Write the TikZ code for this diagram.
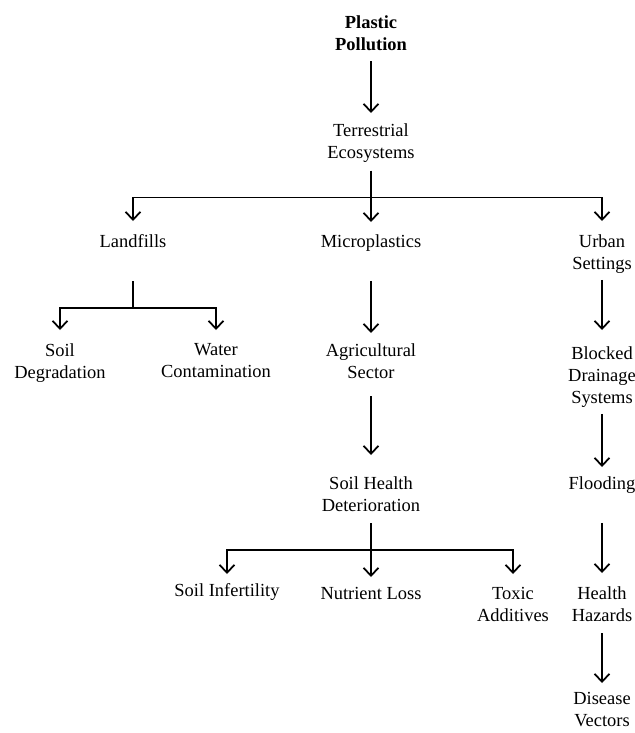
\documentclass[tikz,border=0pt]{standalone}
\usepackage{fontspec}
\setmainfont{Liberation Serif}
\usetikzlibrary{arrows.meta}
\tikzset{
  flowedge/.style = {black, ->, >={Straight Barb[length=4.5pt,width=8.5pt]}, line width=1pt},
  branchedge/.style = {black, ->, >={Straight Barb[length=4.5pt,width=8.5pt]}, line width=1pt},
}
\begin{document}
\begin{tikzpicture}[x=0.02cm,y=-0.02cm]
      \tikzstyle{every node} = [anchor=north, inner sep=0pt, align=center, font=\fontsize{10.5}{12.5}\selectfont]
      \useasboundingbox (0,0) rectangle (635,733);
      \node (plastic) at (371,15.5) {\textbf{Plastic}\\\textbf{Pollution}};
      \node (terr) at (371,123.5) {Terrestrial\\Ecosystems};
      \node (landfills) at (133,234.5) {Landfills};
      \node (micro) at (371,234.5) {Microplastics};
      \node (urban) at (602,234.5) {Urban\\Settings};
      \node (soildeg) at (60,343.5) {Soil\\Degradation};
      \node (water) at (216,343.5) {Water\\Contamination};
      \node (agri) at (371,343.5) {Agricultural\\Sector};
      \node (blocked) at (602,346.5) {Blocked\\Drainage\\Systems};
      \node (soilhealth) at (371,476.5) {Soil Health\\Deterioration};
      \node (flooding) at (602,476.5) {Flooding};
      \node (infert) at (227,583.5) {Soil Infertility};
      \node (nutrient) at (371,586.5) {Nutrient Loss};
      \node (toxic) at (513,586.5) {Toxic\\Additives};
      \node (health) at (602,586.5) {Health\\Hazards};
      \node (disease) at (602,691.5) {Disease\\Vectors};

      \path (plastic) edge[flowedge, shorten <=0.2cm, shorten >=0.21cm] (terr);
      \path (terr) edge[flowedge, shorten <=0.16cm, shorten >=0.25cm] (micro);
      \draw[branchedge, shorten <=0.16cm, shorten >=0.27cm] (terr.south) -- ++(0,34.6) -| (landfills.north);
      \draw[branchedge, shorten <=0.16cm, shorten >=0.27cm] (terr.south) -- ++(0,34.6) -| (urban.north);
      \draw[branchedge, shorten <=0.66cm, shorten >=0.27cm] (landfills.south) -- ++(0,59.9) -| (soildeg.north);
      \draw[branchedge, shorten <=0.66cm, shorten >=0.27cm] (landfills.south) -- ++(0,59.9) -| (water.north);
      \path (micro) edge[flowedge, shorten <=0.58cm, shorten >=0.21cm] (agri);
      \path (agri) edge[flowedge, shorten <=0.34cm, shorten >=0.43cm] (soilhealth);
      \draw[branchedge, shorten <=0.22cm, shorten >=0.19cm] (soilhealth.south) -- ++(0,37.9) -| (infert.north);
      \path (soilhealth) edge[flowedge, shorten <=0.22cm, shorten >=0.19cm] (nutrient);
      \draw[branchedge, shorten <=0.22cm, shorten >=0.25cm] (soilhealth.south) -- ++(0,37.9) -| (toxic.north);
      \path (urban) edge[flowedge, shorten <=0.12cm, shorten >=0.33cm] (blocked);
      \path (blocked) edge[flowedge, shorten <=0.12cm, shorten >=0.19cm] (flooding);
      \path (flooding) edge[flowedge, shorten <=0.58cm, shorten >=0.27cm] (health);
      \path (health) edge[flowedge, shorten <=0.22cm, shorten >=0.17cm] (disease);
\end{tikzpicture}
\end{document}
